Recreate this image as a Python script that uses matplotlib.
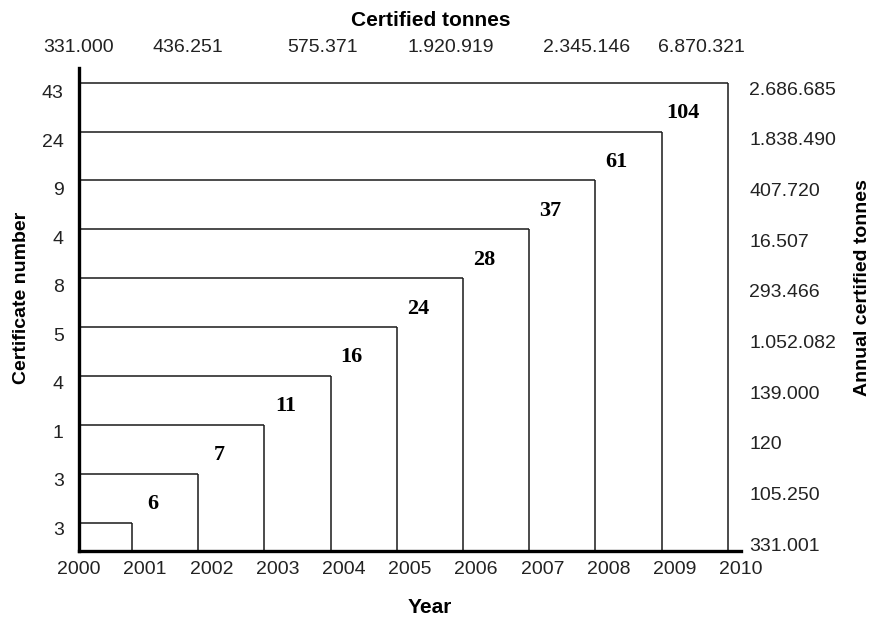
import numpy as np
import matplotlib.pyplot as plt

plt.rcParams['font.family'] = ['Liberation Sans', 'DejaVu Sans']

#========================================================
# Data
years          = [2001, 2002, 2003, 2004, 2005, 2006, 2007, 2008, 2009, 2010]
annual_certs   = [3, 3, 1, 4, 5, 8, 4, 9, 24, 43]
annual_tonnes  = ['331.001', '105.250', '120', '139.000', '1.052.082',
                  '293.466', '16.507', '407.720', '1.838.490', '2.686.685']
top_tonnes     = ['331.000', '436.251', '575.371', '1.920.919', '2.345.146', '6.870.321']
year_ticks     = list(range(2000, 2011))

cumulative = np.cumsum(annual_certs)          # 3, 6, 7, 11 ... 104
levels     = np.arange(1, len(years) + 1)    # one step per year

#========================================================
# Layout
EDGE_SHIFT = 0.2          # rectangle edges sit a bit before the year label
YMIN, YMAX = 0.42, 10.3
ink = '#1a1a1a'
txt = '#222222'

fig = plt.figure(figsize=(8.76, 6.18), dpi=100)
ax = fig.add_axes([79/876, 67/618, (741-79)/876, (551-68)/618])
ax.set_xlim(2000, 2010)
ax.set_ylim(YMIN, YMAX)

right_edges = np.array(years) - EDGE_SHIFT
ax.hlines(levels, 2000, right_edges, color=ink, lw=1.1)
ax.vlines(right_edges, YMIN, levels, color=ink, lw=1.1)

for x, y, c in zip(right_edges[1:], levels[1:], cumulative[1:]):
    ax.text(x - 0.68, y - 0.62, str(c), ha='center', va='center',
            family='Liberation Serif', fontweight='bold', fontsize=16)

# spines
for s in ['top', 'right']:
    ax.spines[s].set_visible(False)
for s in ['left', 'bottom']:
    ax.spines[s].set_linewidth(2.4)
    ax.spines[s].set_color('black')

# bottom axis: years
ax.set_xticks(year_ticks)
ax.set_xticklabels([str(y) for y in year_ticks], fontsize=14, color=txt)
ax.tick_params(axis='x', length=0, pad=7)
ax.set_xlabel('Year', fontsize=15, fontweight='bold')
ax.xaxis.set_label_coords(0.53, -0.097)

# left axis: certificates per year
ax.set_yticks(np.linspace(0.89, 9.81, len(annual_certs)))
ax.set_yticklabels([str(v) for v in annual_certs], fontsize=14, color=txt)
ax.tick_params(axis='y', length=0, pad=11)
ax.set_ylabel('Certificate number', fontsize=14, fontweight='bold')
ax.yaxis.set_label_coords(-0.074, 0.524)

# right axis: annual tonnes
ax2 = ax.twinx()
ax2.set_ylim(YMIN, YMAX)
ax2.set_yticks(np.linspace(0.56, 9.89, len(annual_tonnes)))
ax2.set_yticklabels(annual_tonnes, fontsize=14, color=txt)
ax2.tick_params(axis='y', length=0, pad=6)
for s in ax2.spines.values():
    s.set_visible(False)
ax2.set_ylabel('Annual certified tonnes', fontsize=14, fontweight='bold')
ax2.yaxis.set_label_coords(1.17, 0.545)

# top axis: cumulative certified tonnes
ax3 = ax.twiny()
ax3.set_xlim(2000, 2010)
ax3.set_xticks([1999.95, 2001.6, 2003.65, 2005.6, 2007.65, 2009.4])
ax3.set_xticklabels(top_tonnes, fontsize=14, color=txt)
ax3.tick_params(axis='x', length=0, pad=9)
for s in ax3.spines.values():
    s.set_visible(False)
ax3.set_xlabel('Certified tonnes', fontsize=15, fontweight='bold')
ax3.xaxis.set_label_coords(0.532, 1.087)

plt.savefig('out.png', dpi=100)
